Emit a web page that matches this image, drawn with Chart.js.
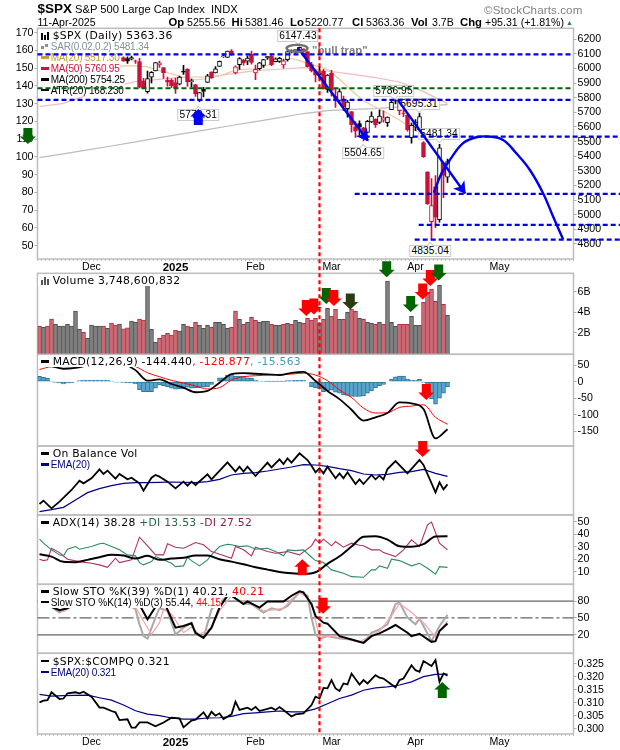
<!DOCTYPE html>
<html>
<head>
<meta charset="utf-8">
<title>$SPX</title>
<script src="https://cdn.jsdelivr.net/npm/chart.js@4"></script>
<style>
html, body { margin: 0; padding: 0; background: #fff; width: 620px; height: 750px; overflow: hidden; }
canvas { position: absolute; left: 0; top: 0; z-index: 1; }
#overlay { z-index: 3; pointer-events: none; }
.t { position: absolute; white-space: nowrap; font-family: "Liberation Sans", Arial, sans-serif; z-index: 2; color: #000; }
.head { font-size: 10.6px; line-height: 12px; }
.head b { font-size: 11.3px; }
.row { position: absolute; left: 38px; z-index: 2; background: #fff; white-space: nowrap; line-height: 11px; height: 11px; color: #000; }
.r1 { padding-left: 14.7px; font-family: "DejaVu Sans", sans-serif; font-size: 10.8px; letter-spacing: 0.25px; }
.r2 { padding-left: 12.7px; font-family: "Liberation Sans", sans-serif; font-size: 10px; }
.dash { position: absolute; left: 2.5px; top: 4px; width: 8.5px; height: 2.5px; background: #000; }
.ico { position: absolute; left: 2.5px; bottom: 1px; width: 2px; background: #000; }
.note { position: absolute; z-index: 2; transform: translate(-50%, -50%); background: #fff; border: 1px solid #ccc; font-family: "Liberation Sans", sans-serif; font-size: 10.2px; line-height: 10px; padding: 0 1px; letter-spacing: 0.1px; white-space: nowrap; }
.note::after { content: ""; position: absolute; z-index: -1; left: 50%; width: 5px; height: 5px; margin-left: -3px; background: #fff; transform: rotate(45deg); }
.note.down::after { bottom: -3px; border-right: 1px solid #ccc; border-bottom: 1px solid #ccc; }
.note.up::after { top: -3px; border-left: 1px solid #ccc; border-top: 1px solid #ccc; }
</style>
</head>
<body>

<!-- header -->
<div class="t" style="left:37.5px;top:1px;font-size:13.5px;line-height:16px;font-weight:bold">$SPX</div>
<div class="t head" style="left:75px;top:3px;font-size:11.2px">S&amp;P 500 Large Cap Index&nbsp; INDX</div>
<div class="t head" style="left:37.5px;top:16px;font-size:10.6px">11-Apr-2025</div>
<div class="t head" style="left:168.5px;top:16px"><b>Op</b></div><div class="t head" style="left:187px;top:16px">5255.56</div>
<div class="t head" style="left:231.5px;top:16px"><b>Hi</b></div><div class="t head" style="left:245px;top:16px">5381.46</div>
<div class="t head" style="left:290px;top:16px"><b>Lo</b></div><div class="t head" style="left:305px;top:16px">5220.77</div>
<div class="t head" style="left:352px;top:16px"><b>Cl</b></div><div class="t head" style="left:366px;top:16px">5363.36</div>
<div class="t head" style="left:411px;top:16px"><b>Vol</b></div><div class="t head" style="left:432px;top:16px">3.7B</div>
<div class="t head" style="left:460px;top:16px"><b>Chg</b></div><div class="t head" style="left:485px;top:16px">+95.31 (+1.81%)</div>
<div class="t" style="left:566px;top:19px;font-size:7px;line-height:8px;color:#2e7d4f">&#9650;</div>
<div class="t" style="left:484px;top:3px;font-size:11.6px;line-height:13px;color:#808080;letter-spacing:0.1px">&copy;StockCharts.com</div>

<!-- panel legends -->
<div class="row r1" style="top:29.5px"><i class="ico" style="height:7px"></i><i class="ico" style="left:5.5px;height:5px"></i><i class="ico" style="left:8.5px;height:8px"></i>$SPX (Daily) 5363.36</div>
<div class="row r2" style="top:41px;color:#84929a;letter-spacing:-0.2px"><i class="ico" style="height:3px;width:3px;background:#84929a;bottom:3px"></i><i class="ico" style="left:7px;height:3px;width:3px;background:#84929a;bottom:5px"></i>SAR(0.02,0.2) 5481.34</div>
<div class="row r2" style="top:52px;color:#c89a3c;letter-spacing:-0.2px"><i class="dash" style="background:#c89a3c"></i>MA(20) 5517.30</div>
<div class="row r2" style="top:63px;color:#d0103a;letter-spacing:-0.2px"><i class="dash" style="background:#d0103a"></i>MA(50) 5760.95</div>
<div class="row r2" style="top:74px;letter-spacing:-0.2px"><i class="dash"></i>MA(200) 5754.25</div>
<div class="row r2" style="top:84.5px;letter-spacing:-0.2px"><i class="dash"></i>ATR(20) 168.230</div>

<div class="row r1" style="top:275px"><i class="ico" style="height:5px;background:#555"></i><i class="ico" style="left:5.5px;height:8px;background:#555"></i><i class="ico" style="left:8.5px;height:6px;background:#555"></i>Volume 3,748,600,832</div>
<div class="row r1" style="top:356px"><i class="dash"></i>MACD(12,26,9) -144.440<span style="color:#f00">, -128.877</span><span style="color:#4a9ab8">, -15.563</span></div>
<div class="row r1" style="top:448px"><i class="dash"></i>On Balance Vol</div>
<div class="row r2" style="top:459px;color:#000080"><i class="dash" style="background:#000080"></i>EMA(20)</div>
<div class="row r1" style="top:517px"><i class="dash"></i>ADX(14) 38.28 <span style="color:#1f6b45">+DI 13.53</span> <span style="color:#8b1a4a">-DI 27.52</span></div>
<div class="row r1" style="top:586px"><i class="dash"></i>Slow STO %K(39) %D(1) 40.21, <span style="color:#f00">40.21</span></div>
<div class="row r2" style="top:596.5px"><i class="dash"></i>Slow STO %K(14) %D(3) 55.44, <span style="color:#f00">44.15</span></div>
<div class="row r1" style="top:655.5px"><i class="dash"></i>$SPX:$COMPQ 0.321</div>
<div class="row r2" style="top:666.5px;color:#000080;letter-spacing:-0.15px"><i class="dash" style="background:#000080"></i>EMA(20) 0.321</div>

<div class="t" style="left:312px;top:44px;font-size:11.4px;line-height:12px;font-weight:bold;color:#808080;z-index:2">"bull trap"</div>

<script>
// x axis: slot 0 is Nov 12 2024, slot 102 is Apr 11 2025, the rest is empty room up to May
const monthSlots = [13, 34, 54, 73, 94, 115];
const monthLabels = ['Dec', '2025', 'Feb', 'Mar', 'Apr', 'May'];
const slotCount = 134;

// candles, from Dec 12 on (the ones before sit behind the legend)
const firstCandle = 21;
const opens = [6074,6068,6063,6052,6047,5913,5842,5941,5984,6024,6006,5921,5920,
  5903,5892,5983,5994,5910,5890,5782,5859,5905,5978,5969,6014,6081,6076,6121,5969,6027,6058,6050,6097,
  5969,5999,6021,6073,6083,6047,6049,6025,6061,6115,6121,6117,6134,6115,6027,5983,5970,5981,5857,
  5968,5811,5782,5787,5726,5706,5603,5624,5594,5563,5635,5654,5632,5646,5630,5719,5781,5772,5695,5679,5527,
  5598,5581,5493,5293,4953,5193,4966,5353,5256];
const highs = [6079,6079,6085,6058,6070,5932,5982,5979,6041,6050,6007,5941,5929,
  5935,5949,6022,6000,5928,5890,5836,5871,5961,5978,6014,6051,6100,6119,6129,6018,6074,6063,6087,6120,
  6023,6042,6062,6084,6101,6073,6076,6064,6116,6127,6130,6147,6134,6115,6043,5992,6010,5994,5959,
  5987,5865,5861,5812,5783,5706,5636,5642,5598,5645,5704,5655,5716,5711,5670,5775,5787,5773,5733,5686,5627,
  5650,5696,5500,5293,5247,5268,5482,5353,5381];
const lows = [6051,6035,6059,6035,5867,5866,5832,5902,5983,6007,5932,5880,5869,
  5829,5888,5960,5877,5874,5809,5774,5805,5905,5933,5969,6014,6076,6075,6089,5963,5994,6023,6027,6030,
  5924,5991,6007,6062,6020,6048,6042,6003,6051,6107,6100,6111,6085,6009,5977,5909,5932,5858,5837,
  5810,5733,5762,5712,5667,5565,5529,5547,5505,5563,5629,5597,5622,5633,5604,5719,5757,5684,5670,5572,5489,
  5574,5581,5391,5070,4835,4911,4949,5116,5221];
const closes = [6051,6051,6074,6051,5872,5867,5931,5974,6040,6038,5971,5907,5882,
  5869,5942,5975,5909,5918,5827,5836,5843,5950,5937,5997,6049,6086,6119,6101,6012,6068,6039,6071,6041,
  5995,6038,6061,6084,6026,6066,6069,6052,6115,6115,6130,6144,6118,6013,5983,5955,5956,5862,5955,
  5850,5778,5843,5739,5770,5615,5572,5599,5522,5639,5675,5615,5675,5663,5668,5768,5777,5712,5693,5581,5612,
  5633,5671,5397,5074,5062,4983,5457,5268,5363];

// moving averages, read every few slots
const ma200 = [5391,5416,5443,5470,5498,5527,5555,5582,5610,5637,5664,5692,5712,5721,5726,5737,5742,5753];
const ma50 = [5739,5762,5819,5872,5910,5926,5942,5942,5963,5986,5995,6006,5983,5961,5938,5908,5842,5760];
const ma20 = [6002,6018,6018,6011,5986,5963,5940,5922,5931,5949,5979,5995,5997,6022,6052,6070,6045,6018,5995,5926,5849,5780,5735,5694,5648,5591,5546,5518];

// trader's drawings on the price panel
const levelPrices = [6097, 5865, 5785, 5534, 5142, 4930, 4830];
const levelFrom = [-0.5, -0.5, -0.5, 81.3, 78.8, 94.8, 93.8];
const levelTo = [133.5, 133.5, 133.5, 145.5, 145.5, 145.5, 145.5];
const levelColors = ['#0000e6', '#006400', '#0000e6', '#0000e6', '#0000e6', '#0000e6', '#0000e6'];
const trend1Days = [64.6, 82.1], trend1Prices = [6140, 5507];
const trend2Days = [89.6, 106.4], trend2Prices = [5785, 5147];
const curveDays = [98.6,100.5,102.6,105.9,109.2,112.6,115.9,119.2,122.6,125.9,128.4,130.9];
const curvePrices = [5151,5283,5375,5489,5530,5534,5511,5420,5306,5147,4987,4832];
const verticalDay = 70;
const noteDays = [64.6, 39.7, 94.9, 88.6, 99.9, 80.9, 97.7];
const notePrices = [6219, 5684, 5754, 5845, 5549, 5422, 4752];
const noteTexts = ['6147.43', '5773.31', '5695.31', '5786.95', '5481.34', '5504.65', '4835.04'];
const noteDirs = ['down', 'up', 'down', 'down', 'down', 'up', 'up'];

// volume in billions, and 1 where the day closed lower
const volume = [2.65,2.52,2.65,3.34,2.82,2.65,2.65,2.82,2.65,4.12,2.33,2.04,1.45,2.75,2.65,2.65,2.65,2.43,2.95,2.75,
  2.85,2.39,2.49,3.14,3.01,3.34,3.24,7.5,2.33,1.06,1.45,1.78,1.94,1.78,2.26,2.17,2.82,2.65,2.52,3.01,
  2.72,2.43,2.72,2.52,3.01,3.01,2.82,2.43,2.52,4.12,3.30,2.82,3.01,3.50,3.21,3.01,3.11,3.11,2.82,2.72,
  2.72,2.82,2.91,2.82,3.21,3.01,2.91,3.40,3.24,3.40,2.91,3.30,4.38,3.63,4.31,3.30,3.30,3.99,4.31,4.08,
  3.40,3.30,3.01,2.91,2.82,3.01,2.82,7.04,3.01,2.62,2.82,2.82,2.82,3.60,2.72,2.72,4.96,5.84,6.26,5.06,
  6.62,4.77,3.69];
const volDown = [1,0,1,1,0,0,0,0,0,0,0,1,0,0,0,0,1,0,1,1,
  0,1,1,0,0,1,1,0,0,0,1,1,1,1,1,0,0,1,0,1,
  0,0,0,1,0,0,0,0,1,1,0,1,0,1,1,0,0,0,1,0,
  0,1,0,1,0,0,1,1,1,1,0,1,0,1,1,0,1,0,1,1,
  0,1,0,0,1,0,1,0,0,0,1,1,1,0,0,0,1,1,1,1,
  0,1,0];

// MACD, read every 3 slots; histogram on every slot
const macdLine = [50,47,39,42,50,60,60,55,35,3,7,-7,-18,-32,-28,-3,23,26,24,22,20,27,30,2,-28,-53,-85,-118,-108,-95,-63,-66,-83,-172,-144];
const macdSignal = [37,45,45,44,47,52,55,55,46,27,15,4,-4,-13,-22,-18,5,15,18,20,22,23,26,20,3,-25,-48,-80,-95,-94,-78,-74,-70,-108,-129];
const macdHist = [16,13,10,2,-2,-4,-7,-4,-4,0,3,5,5,5,5,5,5,5,2,-1,-1,-2,-4,-4,-7,-25,-30,-30,-30,-20,
  -10,-12,-15,-20,-23,-22,-22,-17,-20,-18,-18,-16,-16,-8,0,12,12,20,22,17,17,17,12,10,5,2,2,1,1,1,
  1,1,3,3,4,4,5,0,-16,-18,-22,-30,-27,-26,-32,-35,-40,-42,-45,-45,-45,-43,-35,-28,-18,-12,-8,0,7,15,
  17,17,8,5,5,7,-2,-22,-52,-68,-50,-35,-16];

// On Balance Volume, no scale printed so these are relative readings
const obvDays = [0,1,3,5,8,10,11,13,15,16,17,19,20,22,23,25,26,28,29,30,32,34,36,37,38,39,42,43,47,49,50,51,52,54,57,58,60,61,62,63,65,67,68,
  69,70,71,72,74,75,76,77,79,80,81,83,84,85,86,87,89,92,95,96,99,100,101,102];
const obvVals = [33,43,20,40,75,103,95,110,137,123,133,109,123,107,112,95,73,112,120,115,100,80,100,88,100,90,122,107,158,130,145,130,145,117,157,143,167,153,170,157,185,165,148,
  128,140,125,145,110,125,110,128,93,107,93,120,107,118,107,138,162,125,165,150,68,98,77,92];
const obvEma = [10,16,23,45,67,79,88,95,97,97,98,99,98,97,100,107,120,125,127,132,138,144,151,150,146,139,133,123,120,122,128,130,137,125,116];

// ADX
const adxLine = [24,22.1,17.9,17.6,19.5,21.6,23.5,22.9,20.5,22.7,19.5,20.5,21.1,22.9,22.9,20,18.1,16,13.6,11.7,9.9,8.8,8.3,9.6,16.3,22.4,30.1,37.9,38.4,35.7,30.4,29.9,32,38.1,38.28];
const plusDays = [0,1,3,5,6,7,9,10,13,15,16,18,20,22,24,25,26,28,29,31,33,34,36,37,38,40,42,43,45,47,48,50,52,54,57,59,61,62,64,66,68,
  69,71,73,76,78,81,83,84,85,87,88,90,93,95,97,99,100,102];
const plusDi = [36,32.8,27.5,23.5,22.7,28,30.1,28,30.1,32.3,32.8,30.1,27.5,23.5,22.7,17.3,15.5,18.1,22.1,19.5,16.8,14.1,14.7,21.6,18.9,14.7,19.5,23.5,30.1,32,31.5,30.1,30.7,28,28.8,26.1,22.7,27.5,26.9,27.5,21.6,
  18.9,17.3,11.5,8.8,6.1,5.6,11.5,11.5,14.7,12.8,20,18.9,14.7,16.8,12.8,8,14.1,13.53];
const minusDays = [0,1,2,3,5,7,10,13,15,17,19,20,23,25,27,29,31,32,34,36,37,39,41,43,46,48,49,51,53,54,57,59,62,65,68,
  69,70,71,73,74,76,78,80,81,83,85,86,89,91,93,95,97,98,100,102];
const minusDi = [20,18.9,19.5,28.8,25.3,20,18.1,16.8,15.5,13.6,20.8,17.3,19.5,37.6,30.7,23.5,23.5,32.3,29.6,28.8,30.1,33.3,31.5,26.1,22.9,20.8,30.1,27.5,22.7,29.6,26.1,24.8,26.1,23.5,30.7,
  36,32.8,36,30.7,34.1,29.6,32.8,31.2,30.7,27.5,27.5,25.3,22.1,27.5,35.5,30.1,47.5,49.6,32.8,27.52];

// slow stochastics
const stoLevels = [80, 50, 20];
const k39Days = [0,1,3,5,7,8,10,15,20,23,25,27,29,31,34,36,38,39,41,43,45,47,48,51,52,55,57,61,63,65,66,68,
  69,71,72,75,78,81,83,85,87,89,92,93,95,98,99,100,102];
const k39 = [90,85,69.8,63.8,67.4,71.6,90,95,90,80,73.4,47.6,69.8,80.6,32.6,35.6,40.4,23.6,14.6,32.6,68.6,89.6,89.6,74.6,79.4,68.6,79.4,79.4,89.6,97.4,95.6,74.6,
  53.6,41.6,39.8,17.6,11.6,5.6,17.6,22.4,29.6,37.4,23.6,17.6,21.8,7.4,8.6,26.6,40.21];
const k14Days = [0,3,5,8,12,18,24,25,26,27,29,30,32,34,36,38,39,41,43,47,48,51,53,56,58,60,62,65,67,68,
  69,70,72,75,78,81,83,85,87,89,90,92,94,95,96,98,100,102];
const k14 = [70,69.8,59.6,74.6,90,90,65.6,38.6,17.6,13.4,50.6,67.4,62.6,20.6,32.6,41.6,21.8,14.6,65.6,89.6,89.6,75.8,74.6,59.6,67.4,63.8,71.6,95.6,89.6,50.6,
  20.6,12.8,17.6,13.4,11.6,5.6,23.6,29.6,38.6,74.6,77.6,50.6,38.6,48.8,35.6,8.6,35.6,55.44];
const d3Days = [0,4,6,8,12,18,24,26,28,30,31,33,36,38,40,43,45,48,50,53,56,58,61,63,65,68,
  69,70,73,76,80,82,85,88,90,93,95,96,99,100,102];
const d3 = [75,68.6,61.4,69.8,90,90,69.8,44.6,20.6,41.6,65.6,56.6,23.6,33.8,20.6,32.6,62.6,89.6,80.6,75.8,62.6,63.8,67.4,83.6,95.6,80.6,
  44.6,15.8,17.6,13.4,7.4,14.6,26.6,53.6,75.8,59.6,47.6,41.6,15.8,26.6,44.15];

// $SPX:$COMPQ ratio
const ratioDays = [0,1,2,3,5,6,7,9,10,11,13,15,16,18,19,20,22,23,24,25,27,29,31,33,35,36,38,39,41,42,43,44,45,46,48,49,50,52,53,54,55,57,58,59,60,61,63,64,66,68,
  69,70,71,72,73,74,75,76,77,78,80,81,82,84,85,86,88,89,90,91,93,94,95,96,98,99,100,101,102];
const ratio = [.3101,.3108,.3110,.3140,.3114,.3116,.3136,.3140,.3136,.3142,.3123,.3081,.3081,.3068,.3063,.3033,.3036,.3004,.3004,.3024,.3024,.3009,.3024,.3042,.3040,.3005,.3031,.3035,.3063,.3040,.3065,.3050,.3059,.3037,.3055,.3104,.3072,.3081,.3072,.3084,.3068,.3076,.3081,.3072,.3083,.3072,.3047,.3055,.3059,.3091,
  .3123,.3116,.3157,.3155,.3187,.3155,.3145,.3174,.3170,.3212,.3170,.3187,.3174,.3206,.3196,.3193,.3170,.3159,.3187,.3193,.3244,.3225,.3219,.3260,.3241,.3264,.3180,.3212,.3204];
const ratioEma = [.3132,.3125,.3127,.3128,.3129,.3119,.3110,.3091,.3069,.3056,.3050,.3041,.3037,.3037,.3041,.3042,.3047,.3058,.3061,.3065,.3068,.3065,.3065,.3076,.3096,.3116,.3129,.3148,.3157,.3161,.3168,.3180,.3200,.3209,.3210];

// block arrows, one list per panel: slot, value on that panel's scale, 1 down / -1 up, colour
const priceArrowDays = [-2.9, 39.7], priceArrowVals = [5539, 5669], priceArrowDirs = [1, -1], priceArrowCols = ['#006400', '#0000ff'];
const volArrowDays = [66.7, 68.6, 71.7, 73.6, 77.7, 86.8, 92.8, 95.8, 97.7, 99.8];
const volArrowVals = [4.41, 4.56, 5.58, 5.39, 5.04, 8.2, 4.8, 6.02, 7.34, 7.87];
const volArrowCols = ['#f00', '#f00', '#006400', '#f00', '#2a3d12', '#006400', '#006400', '#f00', '#f00', '#006400'];
const macdArrowDays = [96.7], macdArrowVals = [-31.5];
const obvArrowDays = [95.8], obvArrowVals = [198];
const adxArrowDays = [65.7], adxArrowVals = [13.6];
const stoArrowDays = [70.9], stoArrowVals = [71.6];
const ratioArrowDays = [100.7], ratioArrowVals = [.3149];

// page geometry of the plot frame
const plotLeft = 37.5, plotRight = 573.5;
const tickFont = { family: 'Liberation Sans', size: 10.6 };

function every(n, vals, start) {
  start = start || 0;
  return vals.map(function (v, k) { return { x: start + k * n, y: v }; });
}
function pts(days, vals) {
  return vals.map(function (v, k) { return { x: days[k], y: v }; });
}
function line(data, color, width, extra) {
  return Object.assign({ type: 'line', data: data, borderColor: color, borderWidth: width, pointRadius: 0, fill: false, tension: 0, clip: false }, extra || {});
}

// frame around each panel
const framePlugin = {
  id: 'frame',
  beforeDatasetsDraw(chart) {
    const a = chart.chartArea, ctx = chart.ctx;
    ctx.save();
    ctx.strokeStyle = '#bdbdbd';
    ctx.lineWidth = 1.5;
    ctx.strokeRect(a.left, a.top, a.right - a.left, a.bottom - a.top);
    ctx.restore();
  }
};

function drawArrow(ctx, cx, cy, dir, color) {
  ctx.save();
  ctx.translate(cx, cy);
  ctx.scale(1, dir);
  ctx.fillStyle = color;
  ctx.beginPath();
  ctx.moveTo(-4.5, -8); ctx.lineTo(4.5, -8); ctx.lineTo(4.5, 0.5); ctx.lineTo(8, 0.5);
  ctx.lineTo(0, 8); ctx.lineTo(-8, 0.5); ctx.lineTo(-4.5, 0.5);
  ctx.closePath();
  ctx.fill();
  ctx.restore();
}

function arrowPlugin(days, vals, dirs, cols) {
  return {
    id: 'arrows',
    afterDatasetsDraw(chart) {
      days.forEach(function (d, k) {
        drawArrow(chart.ctx, chart.scales.x.getPixelForValue(d), chart.scales.y.getPixelForValue(vals[k]),
          dirs ? dirs[k] : 1, cols ? cols[k] : '#f00');
      });
    }
  };
}

// one transparent full page chart per panel, plot area set through the padding
function panel(top, bottom, cfg) {
  const canvas = document.createElement('canvas');
  canvas.width = 620;
  canvas.height = 750;
  canvas.style.width = '620px';
  canvas.style.height = '750px';
  if (cfg.id) canvas.id = cfg.id;
  document.body.appendChild(canvas);

  const showX = !!cfg.showX;
  const slots = [];
  for (let s = 0; s < slotCount; s++) slots.push(s);

  const scales = {
    x: {
      type: 'linear', min: -0.5, max: 133.5, offset: false, display: showX,
      afterFit: function (s) { s.height = showX ? 14 : 0; },
      afterBuildTicks: function (s) { s.ticks = slots.map(function (v) { return { value: v }; }); },
      grid: { drawOnChartArea: false, tickLength: 2, color: '#bdbdbd' },
      border: { display: false },
      ticks: {
        autoSkip: false, maxRotation: 0, padding: 0, color: '#000',
        callback: function (v) { const k = monthSlots.indexOf(v); return k < 0 ? '' : monthLabels[k]; },
        font: function (c) {
          return c.tick && c.tick.label === '2025'
            ? { family: tickFont.family, size: 11.5, weight: 'bold' } : tickFont;
        }
      }
    },
    y: {
      type: 'linear', position: 'right', min: cfg.min, max: cfg.max, display: !cfg.hideY,
      afterFit: function (s) { s.width = cfg.hideY ? 0 : 620 - plotRight; },
      afterBuildTicks: function (s) { s.ticks = (cfg.ticks || []).map(function (v) { return { value: v }; }); },
      grid: { drawOnChartArea: false, tickLength: 3, color: '#aaa' },
      border: { display: false },
      ticks: { autoSkip: false, padding: 1, color: '#000', font: tickFont, callback: cfg.tickText || function (v) { return String(v); } }
    }
  };
  if (cfg.left) {
    scales.atr = {
      type: 'linear', position: 'left', min: cfg.left.min, max: cfg.left.max,
      afterFit: function (s) { s.width = plotLeft; },
      afterBuildTicks: function (s) { s.ticks = cfg.left.ticks.map(function (v) { return { value: v }; }); },
      grid: { drawOnChartArea: false, tickLength: 3, color: '#aaa' },
      border: { display: false },
      ticks: { autoSkip: false, padding: 1, color: '#000', font: tickFont, callback: function (v) { return String(v); } }
    };
  }

  return new Chart(canvas, {
    type: 'bar',
    data: { datasets: cfg.datasets },
    plugins: cfg.plugins || [framePlugin],
    options: {
      responsive: false, animation: false, devicePixelRatio: 1, events: [],
      layout: {
        autoPadding: false,
        padding: {
          left: cfg.left ? 0 : plotLeft,
          right: cfg.hideY ? 620 - plotRight : 0,
          top: top,
          bottom: 750 - bottom - (showX ? 14 : 0)
        }
      },
      plugins: { legend: { display: false }, tooltip: { enabled: false } },
      scales: scales
    }
  });
}

// price panel
const dayOf = function (k) { return firstCandle + k; };
const candleColors = closes.map(function (c, k) {
  return k === 0 || c < closes[k - 1] ? '#c8103a' : '#000';
});
const bodyFill = closes.map(function (c, k) {
  return c < opens[k] ? candleColors[k] : '#fff';
});
const wickData = lows.map(function (l, k) { return { x: dayOf(k), y: [l, highs[k]] }; });
const bodyData = opens.map(function (o, k) { return { x: dayOf(k), y: [o, closes[k]] }; });

const pricePanel = panel(28.3, 259, {
  showX: true, min: 4697, max: 6275,
  ticks: [6200,6100,6000,5900,5800,5700,5600,5500,5400,5300,5200,5100,5000,4900,4800],
  left: { min: 42.5, max: 172.5, ticks: [170,160,150,140,130,120,110,100,90,80,70,60,50] },
  datasets: [
    { data: bodyData, grouped: false, barThickness: 4, backgroundColor: bodyFill, borderColor: candleColors, borderWidth: 1, borderSkipped: false },
    { data: wickData, grouped: false, barThickness: 1, backgroundColor: candleColors, borderWidth: 0 },
    line(every(3, ma20, 18), '#eec9a0', 1.2),
    line(every(6, ma50), '#f2bcbc', 1.2),
    line(every(6, ma200), '#bcbcbc', 1.2)
  ],
  plugins: [framePlugin]
});

// price callouts sit at their price on the scale
noteTexts.forEach(function (txt, k) {
  const el = document.createElement('div');
  el.className = 'note ' + noteDirs[k];
  el.textContent = txt;
  el.style.left = pricePanel.scales.x.getPixelForValue(noteDays[k]) + 'px';
  el.style.top = pricePanel.scales.y.getPixelForValue(notePrices[k]) + 'px';
  document.body.appendChild(el);
});

// volume
panel(273.3, 354.3, {
  min: -0.1, max: 7.8, ticks: [6, 4, 2],
  tickText: function (v) { return v + 'B'; },
  datasets: [{
    data: every(1, volume), barThickness: 4, base: -0.1, borderWidth: 1, borderSkipped: false,
    backgroundColor: volDown.map(function (d) { return d ? '#cc6b75' : '#808080'; }),
    borderColor: volDown.map(function (d) { return d ? '#b23045' : '#4f4f4f'; })
  }],
  plugins: [framePlugin, arrowPlugin(volArrowDays, volArrowVals, null, volArrowCols)]
});

// MACD
panel(354.3, 446, {
  min: -195, max: 83, ticks: [50, 0, -50, -100, -150],
  datasets: [
    line(every(3, macdLine), '#000', 1.8, { cubicInterpolationMode: 'monotone' }),
    line(every(3, macdSignal), '#f00', 1, { cubicInterpolationMode: 'monotone' }),
    { data: every(1, macdHist), barThickness: 4, backgroundColor: '#5aa5cf', borderColor: '#2b7596', borderWidth: 1, borderSkipped: false }
  ],
  plugins: [framePlugin, arrowPlugin(macdArrowDays, macdArrowVals)]
});

// On Balance Volume
panel(446, 515, {
  min: 0, max: 207,
  datasets: [
    line(pts(obvDays, obvVals), '#000', 1.8),
    line(every(3, obvEma), '#00008b', 1.2)
  ],
  plugins: [framePlugin, arrowPlugin(obvArrowDays, obvArrowVals)]
});

// ADX
panel(515, 584.3, {
  min: 0, max: 55.3, ticks: [50, 40, 30, 20, 10],
  datasets: [
    line(every(3, adxLine), '#000', 2, { cubicInterpolationMode: 'monotone' }),
    line(pts(plusDays, plusDi), '#2e8b63', 1.1),
    line(pts(minusDays, minusDi), '#b03060', 1.1)
  ],
  plugins: [framePlugin, arrowPlugin(adxArrowDays, adxArrowVals, [-1], ['#f00'])]
});

// slow stochastics
panel(584.3, 653.3, {
  min: -13, max: 110, ticks: [80, 50, 20],
  datasets: [
    line(pts(k39Days, k39), '#000', 2, { clip: true }),
    line(pts(d3Days, d3), '#f4a6a6', 1.2, { clip: true }),
    line(pts(k14Days, k14), '#a9a9a9', 2, { clip: true }),
    line(pts([-0.5, 133.5], [stoLevels[0], stoLevels[0]]), '#666', 1.2),
    line(pts([-0.5, 133.5], [stoLevels[1], stoLevels[1]]), '#666', 1.2, { borderDash: [12, 3, 3, 3] }),
    line(pts([-0.5, 133.5], [stoLevels[2], stoLevels[2]]), '#666', 1.2)
  ],
  plugins: [framePlugin, arrowPlugin(stoArrowDays, stoArrowVals)]
});

// ratio panel
panel(653.3, 734, {
  showX: true, min: 0.29795, max: 0.329, ticks: [.325, .32, .315, .31, .305, .3],
  tickText: function (v) { return v.toFixed(3); },
  datasets: [
    line(pts(ratioDays, ratio), '#000', 1.8),
    line(every(3, ratioEma), '#00008b', 1.2)
  ],
  plugins: [framePlugin, arrowPlugin(ratioArrowDays, ratioArrowVals, [-1], ['#006400'])]
});

// drawings above the legends: levels, trend arrows, the curve, the vertical date line
const drawings = levelPrices.map(function (p, k) {
  return line(pts([levelFrom[k], levelTo[k]], [p, p]), levelColors[k], 2.2, { borderDash: [5, 3] });
});
drawings.push(line(pts(trend1Days, trend1Prices), '#0000e6', 2.4));
drawings.push(line(pts(trend2Days, trend2Prices), '#0000e6', 2.4));
drawings.push(line(pts(curveDays, curvePrices), '#0000e6', 2.4, { tension: 0.4 }));
drawings.push(line(pts([verticalDay, verticalDay], [6275, 1448]), '#f00', 2.2, { borderDash: [4, 3] }));

const headsPlugin = {
  id: 'heads',
  afterDatasetsDraw(chart) {
    const xs = chart.scales.x, ys = chart.scales.y, ctx = chart.ctx;
    // the gray ring around the high
    ctx.save();
    ctx.strokeStyle = '#707070';
    ctx.lineWidth = 2.4;
    ctx.beginPath();
    ctx.ellipse(xs.getPixelForValue(64.4), ys.getPixelForValue(6138), 10.5, 3.5, 0, 0, Math.PI * 2);
    ctx.stroke();
    ctx.restore();
    // arrow heads follow the direction of their trend line
    [[trend1Days, trend1Prices], [trend2Days, trend2Prices]].forEach(function (t) {
      const x0 = xs.getPixelForValue(t[0][0]), y0 = ys.getPixelForValue(t[1][0]);
      const x1 = xs.getPixelForValue(t[0][1]), y1 = ys.getPixelForValue(t[1][1]);
      ctx.save();
      ctx.translate(x1, y1);
      ctx.rotate(Math.atan2(y1 - y0, x1 - x0));
      ctx.fillStyle = '#0000e6';
      ctx.beginPath();
      ctx.moveTo(1, 0); ctx.lineTo(-11, -7); ctx.lineTo(-8, 0); ctx.lineTo(-11, 7);
      ctx.closePath();
      ctx.fill();
      ctx.restore();
    });
  }
};

panel(28.3, 259, {
  id: 'overlay', hideY: true, min: 4697, max: 6275,
  datasets: drawings,
  plugins: [headsPlugin, arrowPlugin(priceArrowDays, priceArrowVals, priceArrowDirs, priceArrowCols)]
});
</script>
</body>
</html>
